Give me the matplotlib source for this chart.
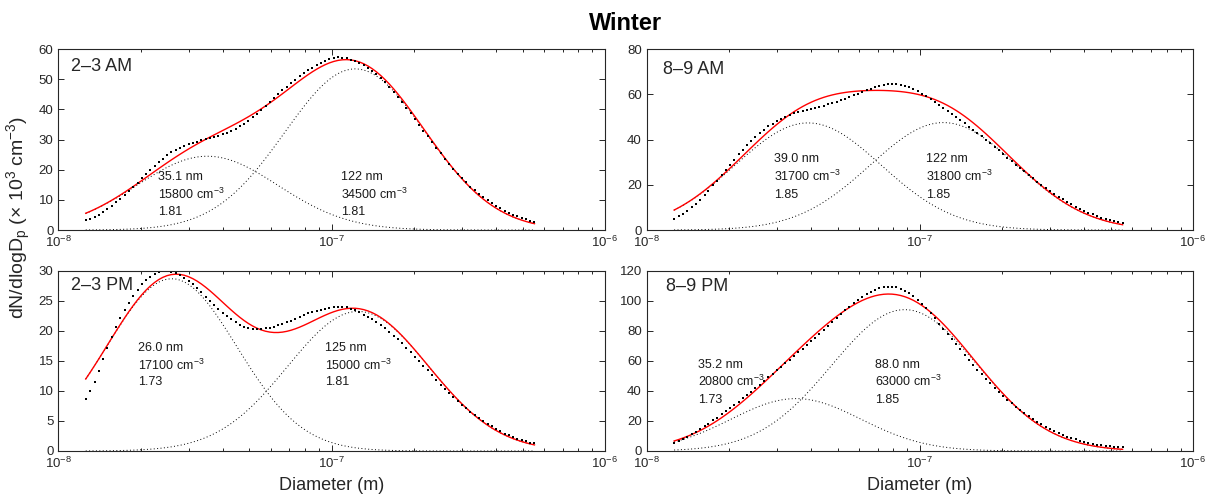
import numpy as np
import matplotlib
matplotlib.use("Agg")
import matplotlib.pyplot as plt

plt.rcParams["font.family"] = ["Liberation Sans", "DejaVu Sans"]
plt.rcParams["mathtext.fontset"] = "custom"
plt.rcParams["mathtext.rm"] = "Liberation Sans"
plt.rcParams["mathtext.it"] = "Liberation Sans:italic"
plt.rcParams["mathtext.bf"] = "Liberation Sans:bold"

# SMPS channel midpoints (nm)
diam_nm = [12.6, 13.1, 13.6, 14.1, 14.6, 15.1, 15.7, 16.3, 16.8, 17.5, 18.1, 18.8, 19.5,
           20.2, 20.9, 21.7, 22.5, 23.3, 24.1, 25.0, 25.9, 26.9, 27.9, 28.9, 30.0, 31.1,
           32.2, 33.4, 34.6, 35.9, 37.2, 38.5, 40.0, 41.4, 42.9, 44.5, 46.1, 47.8, 49.6,
           51.4, 53.3, 55.2, 57.3, 59.4, 61.5, 63.8, 66.1, 68.5, 71.0, 73.7, 76.4, 79.1,
           82.0, 85.1, 88.2, 91.4, 94.7, 98.2, 101.8, 105.5, 109.4, 113.4, 117.6, 121.9,
           126.3, 131.0, 135.8, 140.7, 145.9, 151.2, 156.8, 162.5, 168.5, 174.7, 181.1,
           187.7, 194.6, 201.7, 209.1, 216.7, 224.7, 232.9, 241.4, 250.3, 259.5, 269.0,
           278.8, 289.0, 299.6, 310.6, 322.0, 333.8, 346.0, 358.7, 371.8, 385.4, 399.5,
           414.2, 429.4, 445.1, 461.4, 478.3, 495.8, 514.0, 532.8, 552.3]

# measured dN/dlogDp (x 10^3 cm^-3), one value per channel
meas_2_3am = [3.4, 3.7, 4.3, 5.0, 5.9, 6.9, 8.0, 9.2, 10.4, 11.7,
              13.0, 14.3, 15.7, 17.1, 18.5, 19.9, 21.2, 22.5, 23.7, 24.8,
              25.8, 26.6, 27.3, 27.9, 28.4, 28.9, 29.3, 29.7, 30.1, 30.4,
              30.8, 31.3, 31.8, 32.3, 32.9, 33.6, 34.4, 35.3, 36.3, 37.4,
              38.6, 39.8, 41.1, 42.4, 43.7, 45.0, 46.3, 47.5, 48.7, 49.8,
              50.9, 51.9, 52.9, 53.8, 54.6, 55.3, 56.0, 56.6, 57.0, 57.2,
              57.1, 56.9, 56.5, 56.0, 55.4, 54.7, 53.8, 52.8, 51.6, 50.3,
              49.0, 47.5, 45.9, 44.2, 42.4, 40.6, 38.7, 36.8, 34.8, 32.9,
              31.0, 29.1, 27.3, 25.5, 23.7, 21.9, 20.3, 18.7, 17.2, 15.8,
              14.4, 13.2, 12.0, 10.9, 9.9, 9.0, 8.0, 7.2, 6.4, 5.7,
              5.1, 4.6, 4.0, 3.5, 3.1, 2.8]
meas_8_9am = [4.9, 6.0, 7.2, 8.6, 10.0, 11.6, 13.4, 15.4, 17.3, 19.7,
              21.8, 24.2, 26.5, 28.9, 31.1, 33.4, 35.5, 37.5, 39.3, 41.2,
              42.8, 44.4, 45.8, 47.0, 48.1, 49.2, 50.0, 50.8, 51.5, 52.1,
              52.6, 53.0, 53.5, 53.9, 54.4, 54.9, 55.5, 56.1, 56.7, 57.4,
              58.1, 58.8, 59.6, 60.3, 61.0, 61.8, 62.5, 63.1, 63.7, 64.2,
              64.5, 64.6, 64.5, 64.2, 63.8, 63.1, 62.3, 61.4, 60.3, 59.2,
              58.0, 56.7, 55.4, 54.0, 52.6, 51.3, 49.9, 48.5, 47.1, 45.7,
              44.3, 42.8, 41.4, 39.9, 38.3, 36.8, 35.2, 33.5, 32.0, 30.5,
              28.9, 27.4, 25.9, 24.3, 22.8, 21.3, 19.9, 18.6, 17.2, 15.9,
              14.7, 13.6, 12.4, 11.3, 10.3, 9.3, 8.4, 7.6, 6.9, 6.1,
              5.5, 4.9, 4.4, 4.0, 3.6, 3.2]
meas_2_3pm = [8.6, 10.0, 11.4, 13.3, 15.3, 17.2, 19.0, 20.7, 22.2, 23.5,
              24.7, 25.8, 26.8, 27.7, 28.4, 29.0, 29.4, 29.7, 29.9, 29.9,
              29.8, 29.6, 29.2, 28.8, 28.3, 27.7, 27.1, 26.4, 25.7, 25.0,
              24.3, 23.6, 23.0, 22.4, 21.9, 21.4, 21.0, 20.7, 20.5, 20.3,
              20.3, 20.3, 20.4, 20.5, 20.7, 20.9, 21.1, 21.4, 21.7, 22.0,
              22.3, 22.6, 22.9, 23.1, 23.3, 23.5, 23.7, 23.8, 23.9, 24.0,
              24.0, 23.9, 23.7, 23.4, 23.1, 22.7, 22.3, 21.9, 21.4, 20.9,
              20.4, 19.8, 19.2, 18.6, 17.9, 17.2, 16.5, 15.7, 15.0, 14.2,
              13.4, 12.6, 11.8, 11.0, 10.3, 9.6, 8.9, 8.3, 7.6, 7.1,
              6.5, 6.0, 5.5, 5.0, 4.5, 4.1, 3.7, 3.3, 2.9, 2.6,
              2.3, 2.0, 1.8, 1.6, 1.4, 1.3]
meas_8_9pm = [5.5, 6.6, 8.1, 9.6, 11.2, 12.8, 14.6, 16.5, 18.1, 20.3,
              22.1, 24.3, 26.4, 28.4, 30.5, 32.8, 35.0, 37.3, 39.5, 41.9,
              44.2, 46.7, 49.1, 51.4, 53.8, 56.1, 58.3, 60.7, 63.1, 65.6,
              68.0, 70.3, 73.0, 75.4, 78.0, 80.7, 83.3, 86.0, 88.7, 91.2,
              93.7, 96.1, 98.4, 100.6, 102.6, 104.4, 105.9, 107.3, 108.3, 109.0,
              109.4, 109.4, 109.0, 108.1, 106.8, 105.2, 103.2, 100.8, 98.0, 95.0,
              91.7, 88.3, 84.8, 81.3, 77.9, 74.4, 70.9, 67.6, 64.1, 60.8,
              57.5, 54.2, 51.1, 47.9, 45.0, 42.1, 39.3, 36.6, 34.0, 31.6,
              29.3, 27.1, 25.0, 23.0, 21.1, 19.3, 17.7, 16.0, 14.6, 13.2,
              11.9, 10.7, 9.6, 8.5, 7.7, 6.8, 6.1, 5.4, 4.8, 4.3,
              3.8, 3.4, 3.1, 2.8, 2.6, 2.4]
measured = [meas_2_3am, meas_8_9am, meas_2_3pm, meas_8_9pm]

panel_names = ["2–3 AM", "8–9 AM", "2–3 PM", "8–9 PM"]
# fitted lognormal modes: geometric mean diameter (nm), number conc. (cm-3), GSD
mode1_dg = [35.1, 39.0, 26.0, 35.2]
mode1_n = [15800, 31700, 17100, 20800]
mode1_sg = [1.81, 1.85, 1.73, 1.73]
mode2_dg = [122, 122, 125, 88.0]
mode2_n = [34500, 31800, 15000, 63000]
mode2_sg = [1.81, 1.85, 1.81, 1.85]
mode1_dg_txt = ["35.1", "39.0", "26.0", "35.2"]
mode2_dg_txt = ["122", "122", "125", "88.0"]

y_max = [60, 80, 30, 120]
y_step = [10, 20, 5, 20]

# annotation anchors in axes fraction
ann_x = [(0.182, 0.517), (0.233, 0.511), (0.146, 0.488), (0.094, 0.418)]
ann_y = [(0.294, 0.199, 0.101), (0.391, 0.294, 0.192), (0.570, 0.472, 0.385), (0.477, 0.384, 0.283)]
label_xy = [(0.023, 0.902), (0.029, 0.888), (0.023, 0.915), (0.035, 0.911)]

AX_COLOR = "#262626"


def lognormal(d, dg, n, sg):
    s = np.log10(sg)
    return n / (np.sqrt(2 * np.pi) * s) * np.exp(-(np.log10(d / dg)) ** 2 / (2 * s ** 2)) / 1000.0


d = np.array(diam_nm)
fig = plt.figure(figsize=(12.07, 4.97), dpi=100)
pos = [(0.0483, 0.5372, 0.4529, 0.3642), (0.5358, 0.5372, 0.4526, 0.3642),
       (0.0483, 0.0926, 0.4529, 0.3628), (0.5358, 0.0926, 0.4526, 0.3628)]
for i in range(4):
    ax = fig.add_axes(pos[i])
    m1 = lognormal(d, mode1_dg[i], mode1_n[i], mode1_sg[i])
    m2 = lognormal(d, mode2_dg[i], mode2_n[i], mode2_sg[i])
    ax.plot(d * 1e-9, m1, color="black", ls=(0, (1, 2.5)), lw=0.7)
    ax.plot(d * 1e-9, m2, color="black", ls=(0, (1, 2.5)), lw=0.7)
    ax.plot(d * 1e-9, m1 + m2, color="red", lw=1.0)
    ax.plot(d * 1e-9, measured[i], ls="none", marker="s", ms=1.8, mew=0, color="black")
    ax.set_xscale("log")
    ax.set_xlim(1e-8, 1e-6)
    ax.set_ylim(0, y_max[i])
    ax.set_yticks(np.arange(0, y_max[i] + 1, y_step[i]))
    ax.set_xticks([1e-8, 1e-7, 1e-6])
    ax.set_xticklabels(["10$^{-8}$", "10$^{-7}$", "10$^{-6}$"])
    ax.tick_params(which="both", direction="in", top=True, right=True, labelsize=9.5,
                   colors=AX_COLOR, width=0.7)
    ax.tick_params(which="major", length=4.5)
    ax.tick_params(which="minor", length=2.5)
    for sp in ax.spines.values():
        sp.set_color(AX_COLOR)
        sp.set_linewidth(0.8)
    ax.text(label_xy[i][0], label_xy[i][1], panel_names[i], transform=ax.transAxes,
            fontsize=13, va="center", color=AX_COLOR)
    lines1 = [f"{mode1_dg_txt[i]} nm", f"{mode1_n[i]} cm$^{{-3}}$", f"{mode1_sg[i]:.2f}"]
    lines2 = [f"{mode2_dg_txt[i]} nm", f"{mode2_n[i]} cm$^{{-3}}$", f"{mode2_sg[i]:.2f}"]
    for k in range(3):
        ax.text(ann_x[i][0], ann_y[i][k], lines1[k], transform=ax.transAxes, fontsize=9,
                va="center", color="#1a1a1a")
        ax.text(ann_x[i][1], ann_y[i][k], lines2[k], transform=ax.transAxes, fontsize=9,
                va="center", color="#1a1a1a")

fig.text(625.7 / 1207, 1 - 24 / 497, "Winter", fontsize=17, fontweight="bold",
         ha="center", va="center")
fig.text(19 / 1207, 1 - 217 / 497, "dN/dlogD$_\\mathrm{p}$ (× 10$^3$ cm$^{-3}$)",
         rotation=90, fontsize=14, ha="center", va="center", color=AX_COLOR)
fig.text(331.6 / 1207, 1 - 485 / 497, "Diameter (m)", fontsize=13, ha="center",
         va="center", color=AX_COLOR)
fig.text(920 / 1207, 1 - 485 / 497, "Diameter (m)", fontsize=13, ha="center",
         va="center", color=AX_COLOR)

fig.savefig("out.png")
